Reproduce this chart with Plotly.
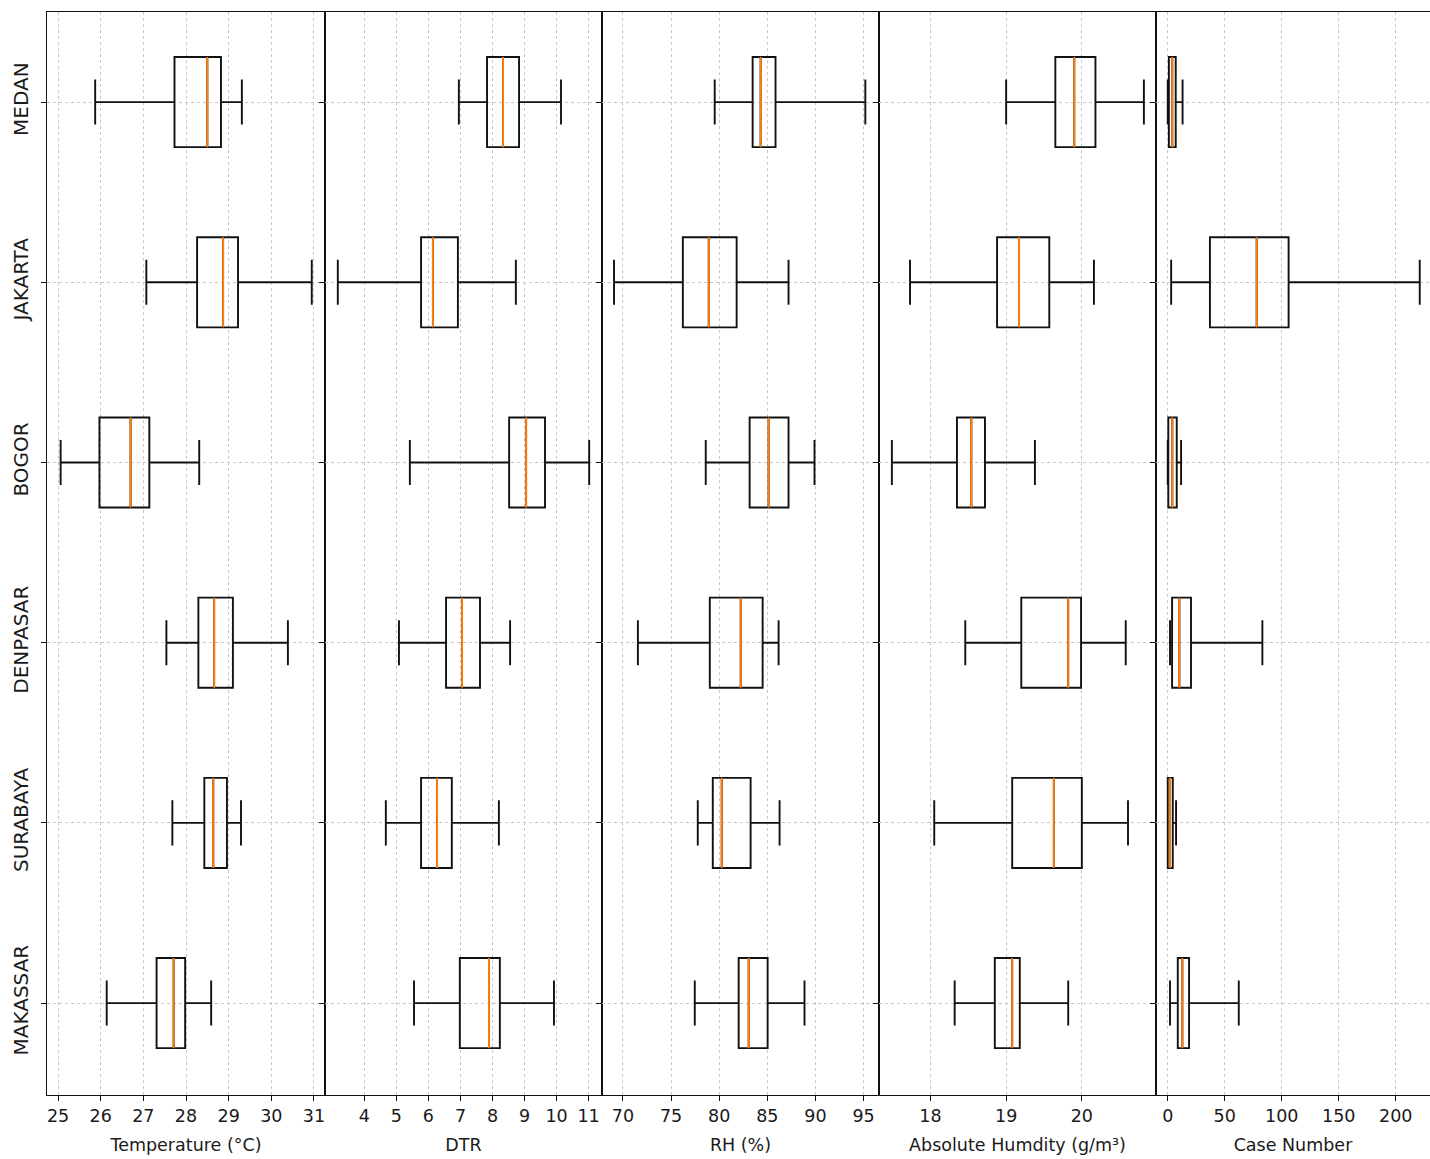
import plotly.graph_objects as go
from plotly.subplots import make_subplots

cities = ["MEDAN", "JAKARTA", "BOGOR", "DENPASAR", "SURABAYA", "MAKASSAR"]

# Temperature (°C)
temp_low = [25.87, 27.07, 25.06, 27.54, 27.68, 26.14]
temp_q1 = [27.73, 28.26, 25.97, 28.29, 28.43, 27.31]
temp_med = [28.50, 28.87, 26.70, 28.66, 28.64, 27.71]
temp_q3 = [28.82, 29.22, 27.14, 29.10, 28.96, 27.98]
temp_high = [29.31, 30.95, 28.31, 30.39, 29.29, 28.59]

# DTR
dtr_low = [6.95, 3.17, 5.42, 5.08, 4.67, 5.55]
dtr_q1 = [7.83, 5.77, 8.52, 6.55, 5.77, 6.98]
dtr_med = [8.33, 6.14, 9.05, 7.05, 6.27, 7.89]
dtr_q3 = [8.83, 6.92, 9.64, 7.61, 6.73, 8.23]
dtr_high = [10.14, 8.73, 11.02, 8.55, 8.20, 9.92]

# RH (%)
rh_low = [79.53, 69.07, 78.60, 71.55, 77.77, 77.46]
rh_q1 = [83.47, 76.22, 83.16, 79.02, 79.33, 82.02]
rh_med = [84.30, 78.91, 85.13, 82.23, 80.26, 83.06]
rh_q3 = [85.85, 81.81, 87.20, 84.51, 83.26, 85.03]
rh_high = [95.18, 87.20, 89.90, 86.17, 86.27, 88.86]

# Absolute humidity (g/m3)
ah_low = [19.00, 17.73, 17.49, 18.46, 18.05, 18.32]
ah_q1 = [19.65, 18.88, 18.35, 19.20, 19.08, 18.85]
ah_med = [19.90, 19.17, 18.54, 19.82, 19.63, 19.08]
ah_q3 = [20.18, 19.57, 18.72, 19.99, 20.00, 19.18]
ah_high = [20.82, 20.16, 19.38, 20.58, 20.61, 19.82]

# Case number
cn_low = [0, 3, 0, 2, 0, 2]
cn_q1 = [1, 37, 0.5, 3.8, 0, 8.8]
cn_med = [4, 78, 4, 10.2, 2, 12.8]
cn_q3 = [7, 106, 7.9, 20.4, 4.4, 18.7]
cn_high = [13, 221, 11.7, 83, 7.3, 62.3]

titles = ["Temperature (°C)", "DTR", "RH (%)", "Absolute Humdity (g/m³)", "Case Number"]
tickvals = [
    [25, 26, 27, 28, 29, 30, 31],
    [4, 5, 6, 7, 8, 9, 10, 11],
    [70, 75, 80, 85, 90, 95],
    [18, 19, 20],
    [0, 50, 100, 150, 200],
]
xranges = [[24.74, 31.26], [2.77, 11.42], [67.82, 96.6], [17.32, 20.98], [-10.3, 230]]

panels = [
    (temp_low, temp_q1, temp_med, temp_q3, temp_high),
    (dtr_low, dtr_q1, dtr_med, dtr_q3, dtr_high),
    (rh_low, rh_q1, rh_med, rh_q3, rh_high),
    (ah_low, ah_q1, ah_med, ah_q3, ah_high),
    (cn_low, cn_q1, cn_med, cn_q3, cn_high),
]

W, H = 1430, 1159
left, right = 47, 1430
bounds = [47, 325, 602, 879, 1156, 1430]

fig = make_subplots(rows=1, cols=5, shared_yaxes=True, horizontal_spacing=0)
pos = list(range(len(cities)))
FONT = "DejaVu Sans"
TXT = "#1a1a1a"

for i, (lo, q1, md, q3, hi) in enumerate(panels):
    fig.add_trace(go.Box(
        y=pos, q1=q1, median=md, q3=q3, lowerfence=lo, upperfence=hi,
        orientation="h", width=0.5, whiskerwidth=0.5, boxpoints=False,
        line=dict(color="#111111", width=1.9), fillcolor="rgba(0,0,0,0)",
        showlegend=False, hoverinfo="skip"), row=1, col=i + 1)
    fig.add_trace(go.Box(
        y=pos, q1=md, median=md, q3=md, lowerfence=md, upperfence=md,
        orientation="h", width=0.5, whiskerwidth=0.5, boxpoints=False,
        line=dict(color="#ff7f0e", width=1.9), fillcolor="rgba(0,0,0,0)",
        showlegend=False, hoverinfo="skip"), row=1, col=i + 1)

axis_common = dict(showline=True, linecolor="#111111", linewidth=1.2, mirror=True,
                   showgrid=True, gridcolor="#c8c8c8", griddash="dot", gridwidth=1,
                   zeroline=False, ticks="outside", ticklen=5, tickcolor="#111111",
                   tickwidth=1.2)

for i in range(5):
    d0 = (bounds[i] - left) / (right - left)
    d1 = (bounds[i + 1] - left) / (right - left)
    xa = "xaxis" if i == 0 else f"xaxis{i+1}"
    ya = "yaxis" if i == 0 else f"yaxis{i+1}"
    fig.layout[xa].update(
        domain=[d0, min(d1, 1.0)], range=xranges[i], tickmode="array",
        tickvals=tickvals[i], ticktext=[str(v) for v in tickvals[i]],
        tickfont=dict(family=FONT, size=17.5, color=TXT),
        title=dict(text=titles[i], font=dict(family=FONT, size=17.5, color=TXT), standoff=13),
        **axis_common)
    fig.layout[ya].update(
        range=[5.51, -0.5], tickmode="array", tickvals=pos,
        ticktext=cities if i == 0 else [""] * len(cities),
        showticklabels=(i == 0), tickangle=-90, ticklabelstandoff=5,
        tickfont=dict(family=FONT, size=20, color=TXT), **axis_common)

fig.update_layout(
    width=W, height=H, boxmode="overlay",
    margin=dict(l=47, r=0, t=12, b=H - 1095),
    plot_bgcolor="white", paper_bgcolor="white",
    font=dict(family=FONT, size=17, color=TXT),
)

fig.write_html("out.html", config={"displayModeBar": False},
               post_script="document.body.style.margin='0';document.body.style.overflow='hidden';")
